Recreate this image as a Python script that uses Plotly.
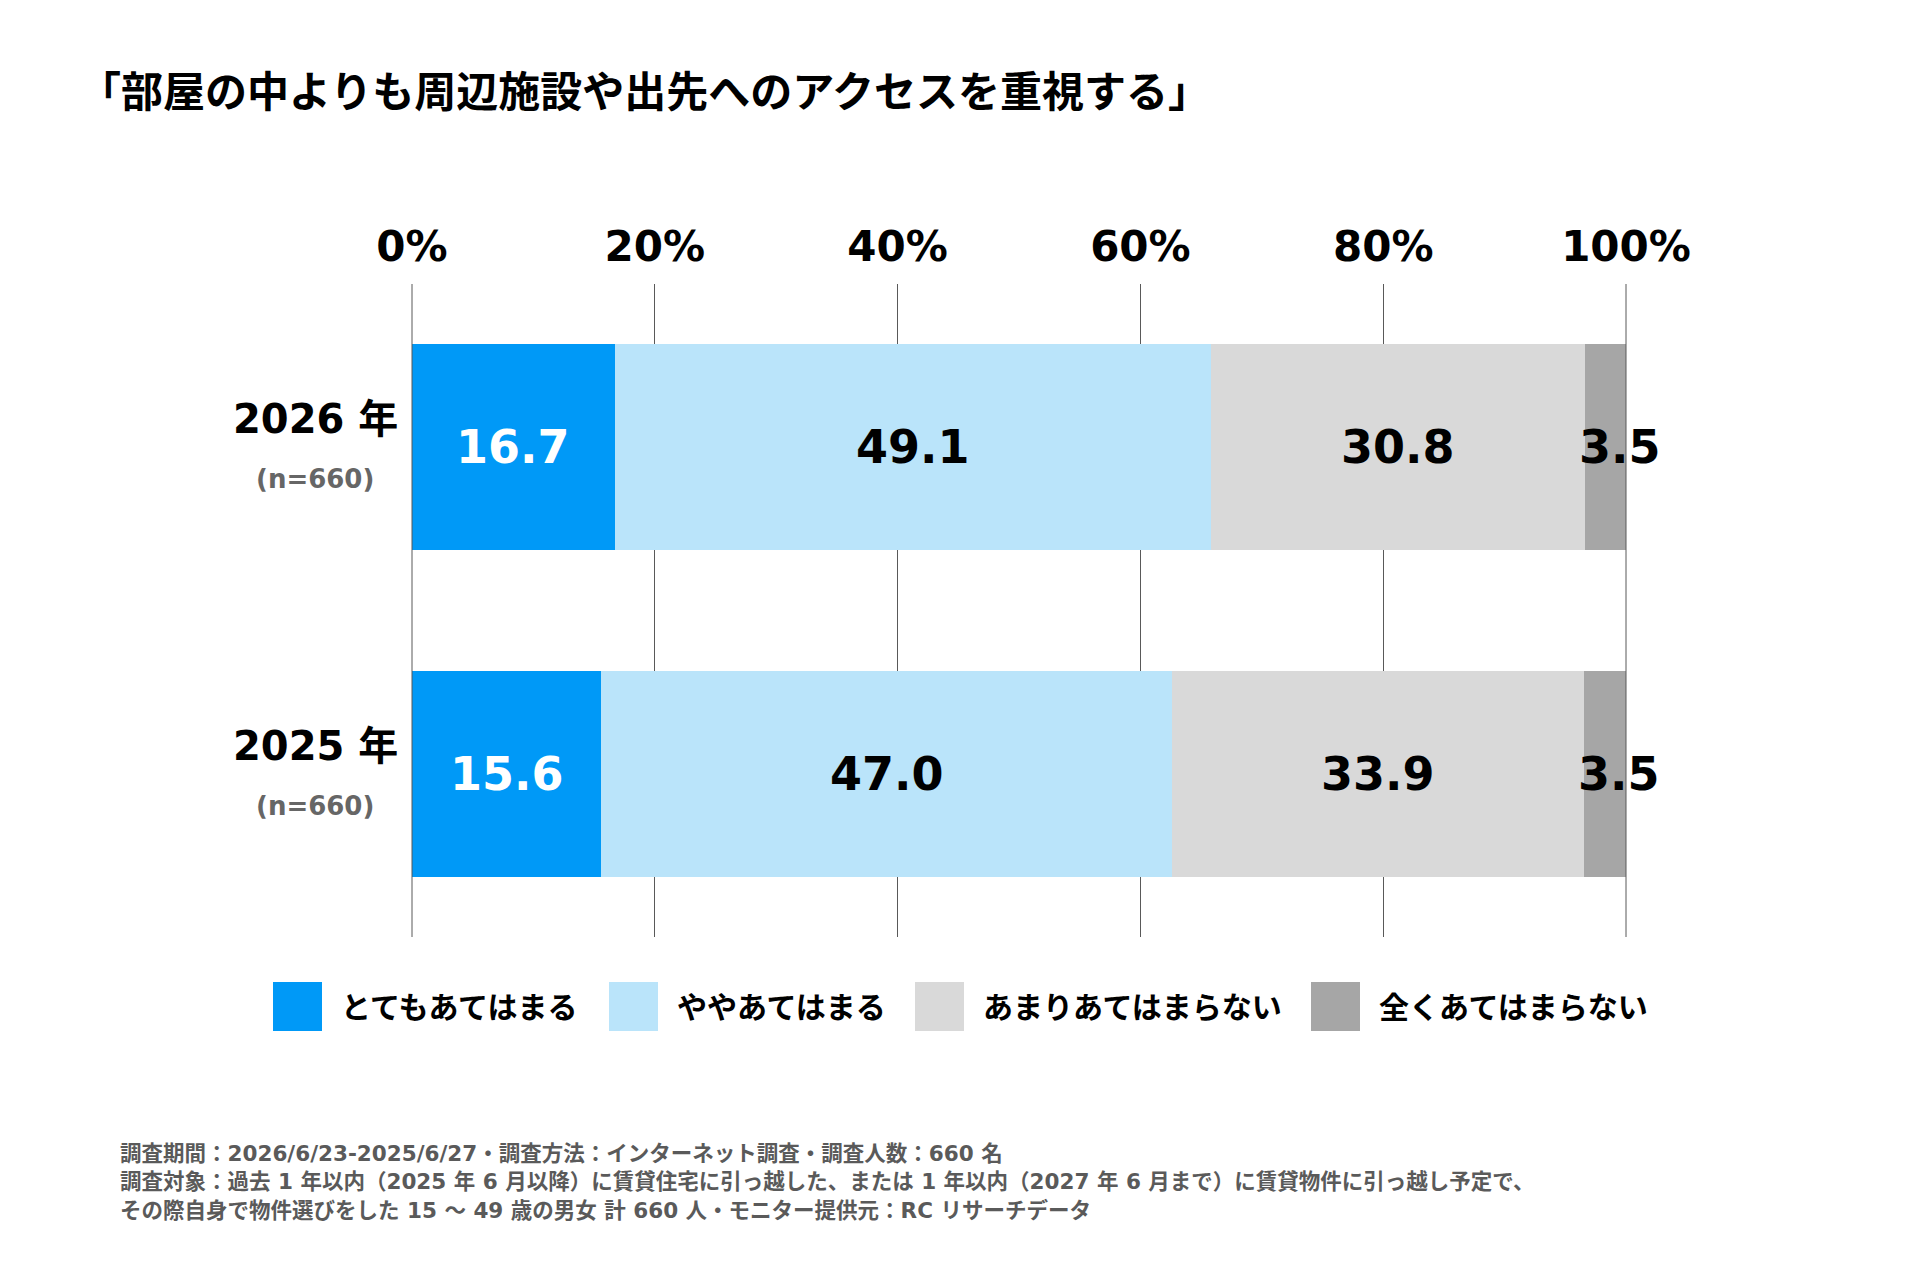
import plotly.graph_objects as go

title = "「部屋の中よりも周辺施設や出先へのアクセスを重視する」"
years = ["2026 年", "2025 年"]
sample_sizes = ["(n=660)", "(n=660)"]
series_names = ["とてもあてはまる", "ややあてはまる", "あまりあてはまらない", "全くあてはまらない"]
very_true = [16.7, 15.6]
somewhat_true = [49.1, 47.0]
not_very_true = [30.8, 33.9]
not_true = [3.5, 3.5]
x_ticks = [0, 20, 40, 60, 80, 100]
x_tick_labels = ["0%", "20%", "40%", "60%", "80%", "100%"]
footnotes = [
    "調査期間：2026/6/23-2025/6/27・調査方法：インターネット調査・調査人数：660 名",
    "調査対象：過去 1 年以内（2025 年 6 月以降）に賃貸住宅に引っ越した、または 1 年以内（2027 年 6 月まで）に賃貸物件に引っ越し予定で、",
    "その際自身で物件選びをした 15 ～ 49 歳の男女 計 660 人・モニター提供元：RC リサーチデータ",
]

colors = ["#0099F7", "#BAE4FA", "#D9D9D9", "#A6A6A6"]
text_colors = ["white", "black", "black", "black"]
label_xshift = [0, 0, 0, 14]
FONT = "DejaVu Sans, Noto Sans CJK JP, sans-serif"

W, H = 1920, 1280
L, R, T, B = 412, 294, 284, 343
PW, PH = W - L - R, H - T - B


def px(x):
    return (x - L) / PW


def py(y):
    return (H - B - y) / PH


all_series = [very_true, somewhat_true, not_very_true, not_true]
fig = go.Figure()
for name, vals, col in zip(series_names, all_series, colors):
    fig.add_trace(go.Bar(
        y=years, x=vals, name=name, orientation="h",
        marker=dict(color=col, line=dict(width=0)),
        width=0.63, showlegend=False, hoverinfo="x+name",
    ))

annotations = []
shapes = []

# value labels at the middle of each stacked segment
for i, yr in enumerate(years):
    start = 0.0
    for s, vals in enumerate(all_series):
        v = vals[i]
        annotations.append(dict(text=f"{v:.1f}", xref="x", yref="y", x=start + v / 2, y=yr,
                                xshift=label_xshift[s], xanchor="center", yanchor="middle",
                                showarrow=False,
                                font=dict(family=FONT, size=46, color=text_colors[s], weight="bold")))
        start += v

# boundary gridlines at the axis ends (0% and 100%)
for xv in (0, 1):
    shapes.append(dict(type="line", xref="paper", yref="paper", x0=xv, x1=xv, y0=0, y1=1,
                       line=dict(color="#595959", width=1), layer="above"))

# title
annotations.append(dict(text=title, xref="paper", yref="paper", x=px(77), y=py(92),
                        xanchor="left", yanchor="middle", showarrow=False,
                        font=dict(family=FONT, size=42, color="black", weight="bold")))
# category labels
for yr, n in zip(years, sample_sizes):
    annotations.append(dict(text=yr, xref="paper", yref="y", x=px(315), y=yr, yshift=28,
                            xanchor="center", yanchor="middle", showarrow=False,
                            font=dict(family=FONT, size=40, color="black", weight="bold")))
    annotations.append(dict(text=n, xref="paper", yref="y", x=px(315), y=yr, yshift=-32,
                            xanchor="center", yanchor="middle", showarrow=False,
                            font=dict(family=FONT, size=26, color="#666666", weight="bold")))

# manual legend
x0 = 273
for name, col in zip(series_names, colors):
    shapes.append(dict(type="rect", xref="paper", yref="paper",
                       x0=px(x0), x1=px(x0 + 49), y0=py(1031), y1=py(982),
                       fillcolor=col, line=dict(width=0)))
    annotations.append(dict(text=name, xref="paper", yref="paper", x=px(x0 + 66), y=py(1007),
                            xanchor="left", yanchor="middle", showarrow=False,
                            font=dict(family=FONT, size=30, color="black", weight="bold")))
    x0 = x0 + 66 + len(name) * 30 + 30

# footnotes
for i, line in enumerate(footnotes):
    annotations.append(dict(text=line, xref="paper", yref="paper", x=px(118), y=py(1153 + i * 28.5),
                            xanchor="left", yanchor="middle", showarrow=False,
                            font=dict(family=FONT, size=21.5, color="#5a5a5a", weight="bold")))

fig.update_layout(
    width=W, height=H,
    margin=dict(l=L, r=R, t=T, b=B),
    paper_bgcolor="white", plot_bgcolor="white",
    barmode="stack",
    xaxis=dict(range=[0, 100], side="top", tickvals=x_ticks, ticktext=x_tick_labels,
               showgrid=True, gridcolor="#595959", gridwidth=1, zeroline=False, showline=False,
               ticks="", ticklabelstandoff=14,
               tickfont=dict(family=FONT, size=42, color="black", weight="bold")),
    yaxis=dict(categoryorder="array", categoryarray=years, autorange=False,
               range=[1.5, -0.5], showticklabels=False, showgrid=False, zeroline=False, ticks=""),
    annotations=annotations,
    shapes=shapes,
)

fig.write_html("out.html")
